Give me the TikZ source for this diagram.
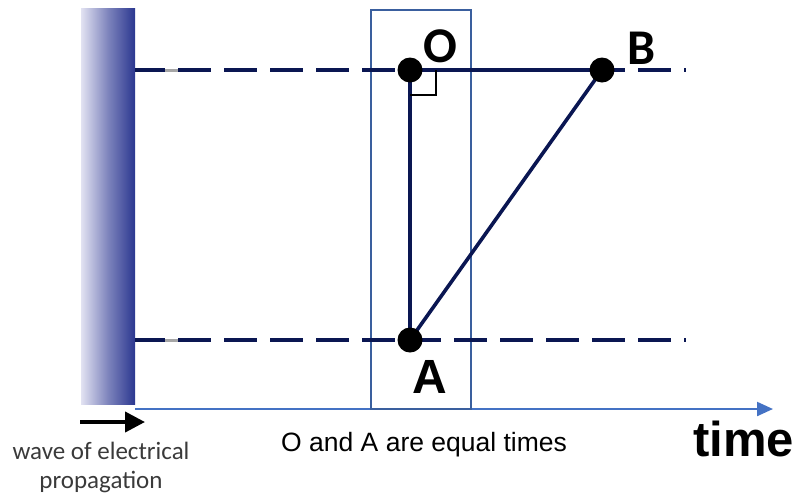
\documentclass[tikz,border=0pt]{standalone}
\usepackage{fontspec}
\setmainfont{Liberation Sans}
\newfontfamily\calib{Carlito}
\usetikzlibrary{arrows.meta}
\definecolor{navy}{HTML}{0A1652}
\definecolor{boxblue}{HTML}{3A5F9E}
\definecolor{axisblue}{HTML}{4472C4}
\definecolor{barleft}{HTML}{E2E2F2}
\definecolor{barright}{HTML}{2B3790}
\definecolor{graytext}{HTML}{3A3A3A}
\tikzset{
  dashline/.style={navy, line width=4pt, dash pattern=on 33pt off 13pt, dash phase=3pt},
  solidline/.style={navy, line width=3.6pt},
  dot/.style={circle, fill=black, inner sep=0pt, minimum size=25pt},
  biglabel/.style={font=\calib\bfseries\fontsize{50}{50}\selectfont, inner sep=0pt},
}
\begin{document}
\begin{tikzpicture}[x=1pt,y=-1pt]
\useasboundingbox (0,0) rectangle (797,499);
% gradient bar
\shade[left color=barleft, right color=barright, middle color=barright!55!barleft] (81,8) rectangle (135,404);
% time axis
\draw[axisblue, line width=2.2pt, -{Triangle[length=16pt,width=14pt]}] (135,409) coordinate (ax0) -- (773,409) coordinate (ax1);
% box
\draw[boxblue, line width=2pt] (371,10) rectangle (471,409);
% dashed lines
\draw[gray!70, line width=3pt] (164,70) -- (179,70);
\draw[gray!70, line width=3pt] (164,340) -- (179,340);
\coordinate (t0) at (135,70); \coordinate (t1) at (686,70);
\coordinate (b0) at (135,340); \coordinate (b1) at (686,340);
\draw[dashline] (t0) -- (t1);
\draw[dashline] (b0) -- (b1);
% points
\coordinate (O) at (410,70);
\coordinate (B) at (602,70);
\coordinate (A) at (410,340);
\draw[navy, line width=4pt] (O) -- (B);
\draw[solidline] (O) -- (A);
\draw[solidline] (A) -- (B);
% right angle
\draw[black, line width=2pt] (410,95) -- (436,95) -- (436,70);
\node[dot] (Od) at (O) {};
\node[dot] (Bd) at (B) {};
\node[dot] (Ad) at (A) {};
% labels
\node[biglabel] (Ol) at (440,46) {O};
\node[biglabel] (Bl) at (642,48) {B};
\node[font=\bfseries\fontsize{48}{48}\selectfont, inner sep=0pt, anchor=base] (Al) at (430,393) {A};
\node[font=\fontsize{26.5}{26.5}\selectfont, inner sep=0pt, anchor=base west] (cap) at (281,451) {O and A are equal times};
\node[font=\bfseries\fontsize{49}{49}\selectfont, inner sep=0pt, anchor=base west] (time) at (693,456) {time};
% wave arrow and text
\draw[black, line width=4pt, -{Triangle[length=20pt,width=20pt]}] (80,422) coordinate (w0) -- (145,422) coordinate (w1);
\node[font=\calib\fontsize{25}{25}\selectfont, text=graytext, inner sep=0pt, anchor=base] (w1t) at (101,459) {wave of electrical};
\node[font=\calib\fontsize{25}{25}\selectfont, text=graytext, inner sep=0pt, anchor=base] (w2t) at (101,488) {propagation};
\end{tikzpicture}
\end{document}
